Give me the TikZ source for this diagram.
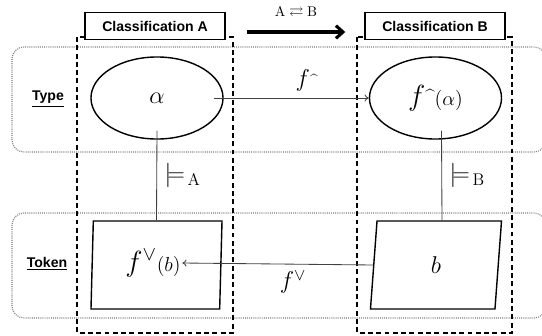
\documentclass[tikz,border=0pt]{standalone}
\usepackage{amsmath,amssymb}
\usepackage{fontspec}
\setsansfont{Liberation Sans}
\usetikzlibrary{arrows.meta,positioning,shapes.geometric}

\begin{document}
\begin{tikzpicture}[x=0.025cm, y=-0.025cm,
  band/.style={draw=black!50, line width=0.8pt, dash pattern=on 0.7pt off 0.8pt, rounded corners=0.3cm},
  column/.style={draw, line width=1.1pt, dash pattern=on 3.5pt off 2.4pt},
  heading/.style={draw, fill=white, line width=1pt, minimum width=3.5cm, minimum height=0.675cm, font=\sffamily\bfseries},
  rowname/.style={font=\sffamily\bfseries},
  typenode/.style={ellipse, draw, line width=1pt, minimum width=3.3cm, minimum height=2.05cm},
  toknode/.style={trapezium, trapezium left angle=76, trapezium right angle=104, trapezium stretches body, draw, line width=1pt, minimum width=3.275cm, minimum height=2.2cm},
  link/.style={draw=black!75, line width=0.6pt},
  map/.style={link, -{To[length=3pt,width=5pt]}}
]
\useasboundingbox (0,0) rectangle (542,336);
\clip (0,0) rectangle (542,336);

% levels
\draw[band] (12,47) rectangle (546,152);
\draw[band] (12,213) rectangle (546,318);
\node[rowname] (typelbl) at (48,99) {\underline{Type}};
\node[rowname] (toklbl) at (47,264) {\underline{Token}};

% the two classifications
\draw[column] (77,37) rectangle (233,333);
\draw[column] (357,37) rectangle (512,333);
\node[heading] (clA) at (155,26) {Classification A};
\node[heading] (clB) at (435,26) {Classification B};

\draw[line width=2.2pt, -{Straight Barb[length=5pt,width=9pt]}]
  ([shift={(21,6)}]clA.east) -- node[above=5pt] {$\mathrm{A}\rightleftarrows\mathrm{B}$} ([shift={(-19,6)}]clB.west);

% types
\node[typenode] (tA) at (157,98) {\LARGE$\alpha$};
\node[typenode] (tB) at (435.5,98) {{\huge$f$}\raisebox{2.5pt}{\large\textasciicircum}{\Large$(\alpha)$}};

% tokens
\node[toknode] (tokA) at (156.5,265) {};
\node[inner sep=1pt] (fb) at (153,263) {{\huge$f^{\vee}$}{\Large$(b)$}};
\node[toknode] (tokB) at (436,265) {\LARGE$b$};

% connectors
\draw[link] ([shift={(0,-9)}]tA.south) -- node[right=2pt] {\LARGE$\models_{\mkern3mu\mathrm{A}}$} (tokA.north);
\draw[link] ([shift={(6,-9)}]tB.south) -- node[right=2pt] {\LARGE$\models_{\mkern3mu\mathrm{B}}$} ([shift={(6,0)}]tokB.north);
\draw[map] ([shift={(-10,0)}]tA.east) -- node[above=1pt, pos=0.6] {{\LARGE$f$}\raisebox{1.5pt}{\textasciicircum}} (tB.west);
\draw[map] (tokB.west) -- node[below=1pt, pos=0.42] {\LARGE$f^{\vee}$} (fb.east);

\end{tikzpicture}
\end{document}
